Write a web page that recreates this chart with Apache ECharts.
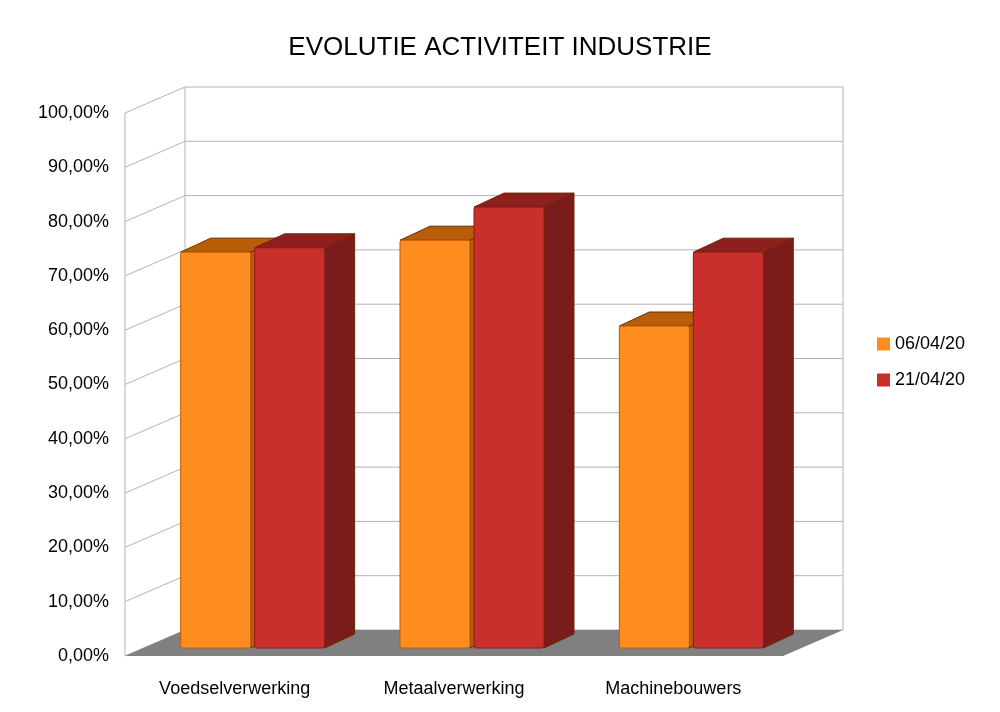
<!DOCTYPE html>
<html><head><meta charset="utf-8">
<script src="https://cdn.jsdelivr.net/npm/echarts@6/dist/echarts.min.js"></script>
<style>html,body{margin:0;background:#fff}#c{width:1000px;height:712px}</style>
</head><body><div id="c"></div>
<script>
var categories = ['Voedselverwerking', 'Metaalverwerking', 'Machinebouwers'];
var s1Name = '06/04/20';
var s2Name = '21/04/20';
var s1Values = [72.9, 75.1, 59.3];
var s2Values = [73.7, 81.2, 72.9];
var ticks = [0,10,20,30,40,50,60,70,80,90,100];

var DX = 60, DY = -26; // wall depth
var BX = 18, BY = 8;    // bar front offset
var TX = 30, TY = -14;  // bar depth
var font = 'Liberation Sans, Arial, sans-serif';

function barItem(off, front, top, side) {
  return function (params, api) {
    var c = api.coord([api.value(0), 0]);
    var t = api.coord([api.value(0), api.value(1)]);
    var x0 = c[0] + BX + off - 35, x1 = x0 + 70;
    var yb = c[1] - BY, yt = t[1] - BY;
    var st = {stroke: '#6b2a00', lineWidth: 1};
    return {type: 'group', children: [
      {type: 'polygon', shape: {points: [[x1, yb], [x1 + TX, yb + TY], [x1 + TX, yt + TY], [x1, yt]]}, style: Object.assign({fill: side}, st)},
      {type: 'polygon', shape: {points: [[x0, yt], [x1, yt], [x1 + TX, yt + TY], [x0 + TX, yt + TY]]}, style: Object.assign({fill: top}, st)},
      {type: 'rect', shape: {x: x0, y: yt, width: 70, height: yb - yt, r: 2}, style: Object.assign({fill: front}, st, {stroke: front === '#ff8c1f' ? '#c05a00' : '#8a1a1a'})}
    ]};
  };
}

function gridItem(params, api) {
  var cs = params.coordSys;
  var v = api.value(0);
  var y = api.coord([0, v])[1];
  var L = cs.x, R = cs.x + cs.width;
  var ls = {stroke: '#b3b3b3', lineWidth: 1};
  var ch = [
    {type: 'line', shape: {x1: L, y1: y, x2: L + DX, y2: y + DY}, style: ls},
    {type: 'line', shape: {x1: L + DX, y1: y + DY, x2: R + DX, y2: y + DY}, style: ls}
  ];
  if (v === 0) {
    ch.push({type: 'polygon', shape: {points: [[L, y], [R, y], [R + DX, y + DY], [L + DX, y + DY]]}, style: {fill: '#808080'}});
    ch.push({type: 'line', shape: {x1: L, y1: y, x2: L, y2: cs.y}, style: ls});
    ch.push({type: 'line', shape: {x1: L + DX, y1: y + DY, x2: L + DX, y2: cs.y + DY}, style: ls});
    ch.push({type: 'line', shape: {x1: R + DX, y1: y + DY, x2: R + DX, y2: cs.y + DY}, style: ls});
  }
  return {type: 'group', children: ch};
}

var chart = echarts.init(document.getElementById('c'));
chart.setOption({
  animation: false,
  title: {text: 'EVOLUTIE ACTIVITEIT INDUSTRIE', left: 'center', top: 30, textStyle: {fontFamily: font, fontSize: 26, fontWeight: 'normal', color: '#000'}},
  legend: {orient: 'vertical', left: 872, top: 330, itemWidth: 13, itemHeight: 13, itemGap: 18,
    textStyle: {fontFamily: font, fontSize: 18, color: '#000'},
    data: [{name: s1Name, icon: 'rect', itemStyle: {color: '#ff8c1f'}}, {name: s2Name, icon: 'rect', itemStyle: {color: '#c9302c'}}]},
  grid: {left: 125, right: 217, top: 113, bottom: 56},
  xAxis: {type: 'category', data: categories, axisLine: {show: false}, axisTick: {show: false},
    axisLabel: {fontFamily: font, fontSize: 18, color: '#000', margin: 24}},
  yAxis: {type: 'value', min: 0, max: 100, interval: 10, splitLine: {show: false}, axisLine: {show: false}, axisTick: {show: false},
    axisLabel: {fontFamily: font, fontSize: 18, color: '#000', margin: 16, formatter: function (v) { return v.toFixed(2).replace('.', ',') + '%'; }}},
  series: [
    {type: 'custom', name: 'grid', silent: true, z: 1, renderItem: gridItem, data: ticks.map(function (t) { return [t]; }), encode: {y: 0}},
    {type: 'custom', name: s1Name, z: 3, color: '#ff8c1f', renderItem: barItem(-37, '#ff8c1f', '#b85e08', '#b85e08'), data: s1Values.map(function (v, i) { return [i, v]; })},
    {type: 'custom', name: s2Name, z: 3, color: '#c9302c', renderItem: barItem(37, '#c9302c', '#8e1f1f', '#7a1c1c'), data: s2Values.map(function (v, i) { return [i, v]; })}
  ]
});
</script></body></html>
